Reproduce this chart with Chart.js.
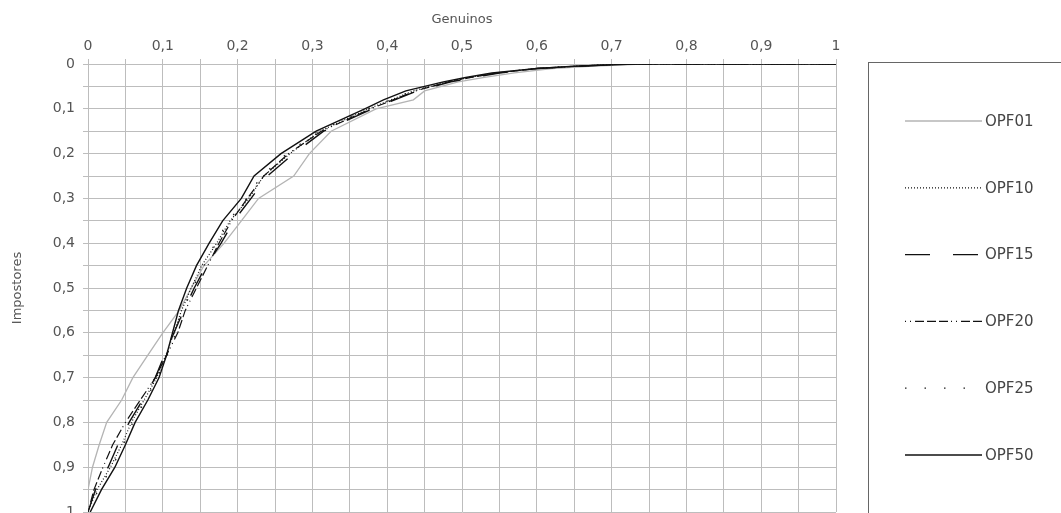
<!DOCTYPE html>
<html>
<head>
<meta charset="utf-8">
<script src="https://cdn.jsdelivr.net/npm/chart.js@4/dist/chart.umd.min.js"></script>
<style>
	html, body { margin: 0; padding: 0; background: #fff; }
	#wrap { width: 1061px; height: 513px; position: relative; }
</style>
</head>
<body>
<div id="wrap"><canvas id="myChart"></canvas></div>
<script>
// impostor rate levels (y), shared by all curves
let impLevels = [1, 0.95, 0.9, 0.85, 0.8, 0.75, 0.7, 0.65, 0.6, 0.55, 0.5, 0.45, 0.4, 0.35, 0.3, 0.25, 0.2, 0.15, 0.1, 0.08, 0.06, 0.04, 0.03, 0.02, 0.01, 0.005, 0, 0];

// genuine rate (x) of each curve at those levels
let opf01 = [0, 0, 0.006, 0.015, 0.025, 0.045, 0.06, 0.08, 0.1, 0.122, 0.138, 0.155, 0.182, 0.205, 0.228, 0.275, 0.296, 0.325, 0.385, 0.435, 0.45, 0.495, 0.53, 0.57, 0.62, 0.67, 0.74, 1];
let opf10 = [0, 0.012, 0.03, 0.045, 0.058, 0.075, 0.092, 0.104, 0.115, 0.125, 0.138, 0.152, 0.172, 0.19, 0.215, 0.235, 0.27, 0.31, 0.375, 0.405, 0.435, 0.48, 0.51, 0.545, 0.6, 0.65, 0.72, 1];
let opf15 = [0, 0.01, 0.027, 0.04, 0.055, 0.073, 0.09, 0.102, 0.115, 0.128, 0.142, 0.158, 0.178, 0.195, 0.218, 0.24, 0.275, 0.315, 0.38, 0.41, 0.44, 0.485, 0.515, 0.55, 0.6, 0.655, 0.72, 1];
let opf20 = [0, 0.008, 0.02, 0.033, 0.05, 0.07, 0.09, 0.105, 0.12, 0.13, 0.145, 0.16, 0.175, 0.192, 0.213, 0.235, 0.268, 0.312, 0.378, 0.408, 0.438, 0.482, 0.512, 0.548, 0.6, 0.65, 0.72, 1];
let opf25 = [0, 0.014, 0.032, 0.047, 0.06, 0.077, 0.093, 0.106, 0.118, 0.127, 0.14, 0.155, 0.17, 0.188, 0.212, 0.232, 0.266, 0.308, 0.374, 0.404, 0.434, 0.48, 0.51, 0.545, 0.6, 0.65, 0.72, 1];
let opf50 = [0.003, 0.018, 0.036, 0.05, 0.063, 0.08, 0.095, 0.105, 0.113, 0.121, 0.132, 0.145, 0.162, 0.18, 0.205, 0.222, 0.258, 0.305, 0.37, 0.395, 0.425, 0.475, 0.505, 0.54, 0.6, 0.65, 0.73, 1];

let seriesNames = ["OPF01", "OPF10", "OPF15", "OPF20", "OPF25", "OPF50"];

function toPoints(xs){
	return xs.map((x, i) => ({x: x, y: impLevels[i]}));
}

function tickLabel(value){
	let v = Math.round(value * 100);
	if (v % 10 != 0) return "";
	return (v / 100).toString().replace(".", ",");
}

let styles = [
	{color: "#b4b4b4", width: 1.3, dash: []},
	{color: "#111", width: 1.2, dash: [1, 2]},
	{color: "#111", width: 1.4, dash: [25, 23]},
	{color: "#111", width: 1.2, dash: [1, 4, 1, 4, 9, 3, 9, 3, 9, 3]},
	{color: "#222", width: 1.3, dash: [1.5, 18]},
	{color: "#111", width: 1.4, dash: []}
];

let allX = [opf01, opf10, opf15, opf20, opf25, opf50];
let datasets = allX.map((xs, i) => ({
	label: seriesNames[i],
	data: toPoints(xs),
	showLine: true,
	borderColor: styles[i].color,
	borderWidth: styles[i].width,
	borderDash: styles[i].dash,
	pointRadius: 0,
	fill: false,
	tension: 0,
	order: 6 - i
}));

let fontName = "'DejaVu Sans', 'Liberation Sans', Arial, sans-serif";

// legend drawn in a box on the right like the original
let boxLegend = {
	id: "boxLegend",
	afterDraw(chart){
		let ctx = chart.ctx;
		ctx.save();
		ctx.strokeStyle = "#666";
		ctx.lineWidth = 1;
		ctx.strokeRect(868.5, 62.5, 300, 500);
		ctx.font = "15px " + fontName;
		ctx.textBaseline = "middle";
		ctx.fillStyle = "#444";
		for (let i = 0; i < seriesNames.length; i++) {
			let y = 121 + i * 66.8;
			ctx.beginPath();
			ctx.strokeStyle = styles[i].color;
			ctx.lineWidth = styles[i].width;
			ctx.setLineDash(styles[i].dash);
			ctx.moveTo(905, y);
			ctx.lineTo(982, y);
			ctx.stroke();
			ctx.fillText(seriesNames[i], 985, y + 1);
		}
		ctx.restore();
	}
};

Chart.defaults.font.family = fontName;
Chart.defaults.color = "#555";

new Chart(document.getElementById("myChart").getContext("2d"), {
	type: "scatter",
	data: {datasets: datasets},
	plugins: [boxLegend],
	options: {
		responsive: true,
		maintainAspectRatio: false,
		animation: false,
		layout: {padding: {left: 0, right: 225, top: 0, bottom: 1}},
		plugins: {legend: {display: false}, tooltip: {enabled: false}},
		scales: {
			x: {
				type: "linear",
				position: "top",
				min: 0,
				max: 1,
				afterFit: (scale) => {
					scale.height = 64;
					scale.paddingLeft = 0;
					scale.paddingRight = 0;
				},
				title: {display: true, text: "Genuinos", font: {size: 13}, color: "#555", padding: {top: 12, bottom: 4}},
				grid: {color: "#bdbdbd", tickLength: 5},
				border: {color: "#bdbdbd"},
				ticks: {stepSize: 0.05, autoSkip: false, maxRotation: 0, font: {size: 14}, color: "#555", padding: 4, callback: tickLabel}
			},
			y: {
				type: "linear",
				reverse: true,
				min: 0,
				max: 1,
				afterFit: (scale) => {
					scale.width = 88;
					scale.paddingTop = 0;
					scale.paddingBottom = 0;
				},
				title: {display: true, text: "Impostores", font: {size: 13}, color: "#555", padding: {top: 10, bottom: 4}},
				grid: {color: "#bdbdbd", tickLength: 5},
				border: {color: "#bdbdbd"},
				ticks: {stepSize: 0.05, autoSkip: false, font: {size: 14}, color: "#555", padding: 8, callback: tickLabel}
			}
		}
	}
});
</script>
</body>
</html>
